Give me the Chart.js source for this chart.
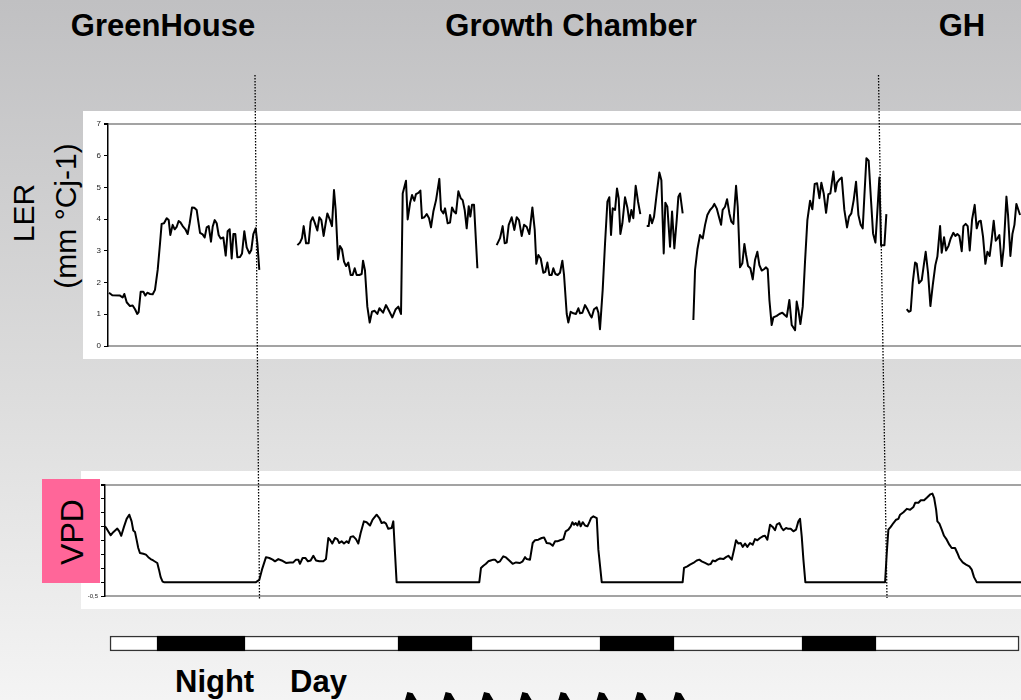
<!DOCTYPE html>
<html>
<head>
<meta charset="utf-8">
<script src="https://cdn.jsdelivr.net/npm/chart.js@4.4.1/dist/chart.umd.min.js"></script>
<style>
  html, body { margin: 0; padding: 0; }
  body {
    width: 1021px; height: 700px; overflow: hidden; position: relative;
    background: linear-gradient(to bottom, #c0c0c2 0%, #dcdcdc 55%, #f4f4f4 100%);
    font-family: "Liberation Sans", Arial, sans-serif;
  }
  .panel { position: absolute; background: #fff; }
  canvas { position: absolute; }
  .title { position: absolute; width: 400px; text-align: center; font-weight: bold; font-size: 31px; line-height: 1; color: #000; white-space: nowrap; }
  .vlabel { position: absolute; white-space: nowrap; line-height: 1; color: #000; transform: translate(-50%, -50%) rotate(-90deg); }
  .phase { position: absolute; font-weight: bold; font-size: 31px; line-height: 1; color: #000; }
  #vpdBox { position: absolute; left: 42px; top: 479px; width: 58px; height: 104px; background: #ff6699; }
  svg.overlay { position: absolute; left: 0; top: 0; pointer-events: none; }
</style>
</head>
<body>
  <div class="title" style="left:-37px; top:10px;">GreenHouse</div>
  <div class="title" style="left:371px; top:10px;">Growth Chamber</div>
  <div class="title" style="left:762px; top:10px;">GH</div>

  <div class="panel" style="left:83px; top:111px; width:938px; height:248px;"></div>
  <canvas id="ler" width="938" height="248" style="left:83px; top:111px;"></canvas>

  <div class="vlabel" style="left:24px; top:213px; font-size:30px;">LER</div>
  <div class="vlabel" style="left:66px; top:216px; font-size:30px;">(mm °Cj-1)</div>

  <div class="panel" style="left:81px; top:471px; width:940px; height:138px;"></div>
  <canvas id="vpd" width="940" height="138" style="left:81px; top:471px;"></canvas>

  <div id="vpdBox"></div>
  <div class="vlabel" style="left:72px; top:532px; font-size:32px;">VPD</div>

  <canvas id="cycle" width="913" height="21" style="left:108px; top:633px;"></canvas>

  <div class="phase" style="left:175px; top:666px;">Night</div>
  <div class="phase" style="left:290px; top:666px;">Day</div>

  <svg class="overlay" id="overlay" width="1021" height="700"></svg>

<script>
// Leaf elongation rate (mm °Cd-1) against time since start (hours); null breaks the trace
const lerHours = [
  0.12, 0.51, 1.43, 1.74, 1.94, 2.22, 2.61, 2.93, 3.21, 3.48, 3.64, 3.88, 4.20, 4.43, 4.67, 4.99, 5.31, 5.58, 5.90, 6.18,
  6.37, 6.65, 6.97, 7.21, 7.40, 7.68, 7.92, 8.16, 8.39, 8.63, 8.87, 9.19, 9.46, 9.70, 9.98, 10.25, 10.53, 10.73, 10.93, 11.24,
  11.48, 11.72, 11.96, 12.23, 12.43, 12.67, 12.91, 13.14, 13.38, 13.70, 13.98, 14.21, 14.45, 14.69, 14.89, 15.12, 15.36, 15.68, 15.92, 16.19,
  16.47, 16.79, 17.02, 17.26, 17.54, 17.74, 17.97,
  20.0,
  22.49, 22.80, 23.04, 23.24, 23.52, 23.83, 24.07, 24.31, 24.55, 24.86, 25.10, 25.34, 25.61, 25.85, 26.05, 26.37, 26.60, 26.84, 27.04, 27.32,
  27.55, 27.79, 28.03, 28.27, 28.54, 28.82, 29.06, 29.30, 29.53, 29.85, 30.13, 30.29, 30.52, 30.80, 31.08, 31.35, 31.67, 31.99, 32.23, 32.67,
  33.01, 33.37, 33.77, 34.17, 34.48, 34.80, 35.00, 35.39, 35.59, 35.87, 36.11, 36.38, 36.58, 36.86, 37.10, 37.29, 37.57, 37.85, 38.13, 38.36,
  38.64, 38.96, 39.15, 39.35, 39.55, 39.83, 40.03, 40.34, 40.62, 40.86, 41.09, 41.33, 41.61, 41.89, 42.12, 42.36, 42.60, 42.84, 43.03, 43.23,
  43.47, 43.87,
  45.0,
  46.16, 46.56, 46.87, 47.11, 47.35, 47.59, 47.94, 48.26, 48.54, 48.81, 49.13, 49.41, 49.72, 50.04, 50.40, 50.68, 50.87, 51.11, 51.39, 51.70,
  51.94, 52.18, 52.42, 52.69, 52.89, 53.13, 53.41, 53.68, 53.96, 54.16, 54.48, 54.67, 54.95, 55.27, 55.58, 55.86, 56.06, 56.34, 56.65, 56.97,
  57.25, 57.44, 57.72, 58.04, 58.24, 58.43, 58.75, 59.03, 59.31, 59.54, 59.74, 59.94, 60.22, 60.45, 60.65, 60.85, 61.09, 61.40, 61.68, 61.92,
  62.16, 62.39, 62.67, 62.95, 63.22,
  63.6,
  63.98, 64.21, 64.37, 64.61, 64.85, 65.17, 65.48, 65.72, 66.00, 66.19, 66.43, 66.75, 66.99, 67.26, 67.54, 67.74, 67.94, 68.25,
  69.0,
  69.52, 69.72, 70.00, 70.31, 70.63, 70.91, 71.18, 71.50, 71.78, 72.01, 72.29, 72.57, 72.81, 73.00, 73.28, 73.52, 73.80, 74.03, 74.27, 74.59,
  74.79, 75.06, 75.34, 75.58, 75.78, 76.01, 76.29, 76.57, 76.84, 77.12, 77.36, 77.64, 77.91, 78.15, 78.35, 78.55, 78.82, 79.02, 79.42, 79.73,
  80.09, 80.37, 80.61, 80.92, 81.20, 81.60, 81.79, 81.99, 82.23, 82.51, 82.78, 83.06, 83.38, 83.65, 83.93, 84.21, 84.49, 84.72, 85.00, 85.28,
  85.55, 85.79, 86.15, 86.38, 86.58, 86.86, 87.14, 87.45, 87.77, 88.01, 88.28, 88.56, 88.84, 89.12, 89.39, 89.63, 89.83, 90.07, 90.34, 90.58,
  90.86, 91.14, 91.37, 91.61, 91.81, 92.21, 92.44,
  93.5,
  94.86, 95.09, 95.33, 95.57, 95.85, 96.05, 96.32, 96.64, 96.92, 97.11, 97.39, 97.67, 97.95, 98.26, 98.50, 98.82, 99.01, 99.29, 99.53, 99.81,
  100.08, 100.40, 100.64, 100.87, 101.11, 101.39, 101.59, 101.86, 102.10, 102.34, 102.62, 102.93, 103.17, 103.41, 103.65, 103.92, 104.20, 104.44, 104.71, 104.95,
  105.19, 105.43, 105.63, 105.86, 106.14, 106.38, 106.70, 106.89, 107.17, 107.41, 107.65, 107.88, 108.12, 108.32
];
const lerValues = [
  1.68, 1.60, 1.59, 1.53, 1.64, 1.38, 1.26, 1.28, 1.16, 1.01, 1.07, 1.71, 1.71, 1.59, 1.68, 1.64, 1.63, 1.77, 2.40, 3.24,
  3.85, 3.87, 4.03, 3.97, 3.50, 3.82, 3.68, 3.76, 3.94, 3.89, 3.78, 3.68, 3.53, 3.87, 4.37, 4.36, 4.29, 3.92, 3.57, 3.52,
  3.42, 3.74, 3.78, 3.29, 3.76, 3.97, 3.87, 3.50, 3.39, 3.42, 2.85, 3.62, 3.68, 2.76, 3.53, 3.53, 2.80, 2.81, 2.92, 3.62,
  3.11, 2.92, 3.03, 3.53, 3.71, 3.24, 2.40,
  null,
  3.18, 3.26, 3.40, 3.78, 3.24, 3.24, 3.92, 4.06, 3.89, 3.64, 4.06, 3.97, 3.47, 3.87, 4.18, 3.97, 3.78, 4.92, 4.29, 2.73,
  3.15, 3.05, 2.66, 2.52, 2.63, 2.24, 2.24, 2.45, 2.24, 2.24, 2.27, 2.69, 2.38, 1.24, 0.74, 1.08, 1.11, 1.01, 1.19, 1.05,
  1.29, 1.11, 0.90, 1.16, 1.24, 1.01, 4.81, 5.21, 3.99, 4.50, 4.76, 4.58, 4.79, 4.83, 4.90, 4.03, 4.06, 4.16, 4.03, 3.74,
  4.24, 4.60, 4.92, 5.27, 4.29, 4.18, 4.34, 3.87, 3.89, 4.37, 4.24, 4.18, 4.88, 4.66, 4.60, 4.29, 3.71, 4.41, 4.08, 4.45,
  4.45, 2.45,
  null,
  3.18, 3.40, 3.78, 3.24, 3.26, 3.82, 4.06, 3.66, 4.06, 3.97, 3.47, 3.82, 3.76, 3.53, 4.37, 3.66, 2.59, 2.87, 2.76, 2.31,
  2.34, 2.63, 2.24, 2.24, 2.45, 2.27, 2.24, 2.31, 2.69, 2.24, 1.01, 0.74, 1.08, 1.03, 1.01, 1.19, 1.03, 1.05, 1.29, 1.14,
  0.98, 0.90, 1.16, 1.22, 1.05, 0.53, 1.77, 3.24, 4.55, 4.69, 3.50, 4.34, 4.29, 4.97, 4.66, 3.53, 3.87, 4.69, 4.37, 3.92,
  4.29, 4.03, 5.05, 4.55, 4.16,
  null,
  3.78, 3.78, 4.13, 3.87, 4.08, 4.81, 5.47, 5.23, 2.92, 4.52, 4.39, 3.13, 4.24, 3.08, 3.97, 4.71, 4.81, 4.18,
  null,
  0.82, 2.40, 3.05, 3.50, 3.39, 3.82, 4.13, 4.29, 4.37, 4.48, 4.34, 4.06, 3.82, 4.29, 4.39, 4.63, 4.18, 3.92, 3.85, 5.05,
  4.39, 2.48, 2.61, 3.22, 2.87, 2.52, 2.45, 2.10, 2.71, 2.97, 2.55, 2.38, 2.42, 2.48, 2.42, 1.45, 0.66, 0.90, 0.95, 1.01,
  1.05, 0.98, 0.92, 1.45, 0.66, 0.50, 1.40, 1.14, 0.69, 1.24, 2.66, 3.97, 4.58, 4.31, 5.11, 5.13, 4.66, 5.15, 4.81, 4.20,
  4.79, 4.81, 5.50, 4.87, 5.15, 5.25, 5.31, 4.29, 3.74, 4.08, 4.18, 4.60, 5.18, 4.13, 3.82, 3.71, 4.73, 5.92, 5.84, 4.76,
  3.55, 3.26, 4.24, 5.31, 3.18, 3.18, 4.16,
  null,
  1.16, 1.08, 1.11, 2.00, 2.63, 2.59, 1.98, 2.08, 2.61, 2.97, 2.31, 1.26, 1.92, 2.55, 2.82, 3.78, 2.94, 3.43, 3.01, 3.15,
  3.39, 3.57, 3.47, 3.53, 3.47, 2.99, 3.78, 3.85, 3.78, 3.01, 3.99, 4.45, 3.71, 3.92, 3.95, 3.45, 2.59, 2.97, 2.84, 3.36,
  3.95, 3.32, 3.39, 3.50, 2.52, 3.11, 4.71, 4.13, 2.84, 3.53, 3.82, 4.48, 4.29, 4.13
];

// Vapour pressure deficit against the same time base (hours)
const vpdHours = [
  -0.35, -0.08, 0.32, 0.63, 1.11, 1.35, 1.58, 1.90, 2.22, 2.53, 2.81, 3.01, 3.21, 3.40, 3.60, 3.80, 4.20, 4.51, 4.79, 5.07,
  5.38, 5.86, 6.06, 6.26, 6.49, 6.65, 17.58, 17.97, 18.29, 18.77, 19.16, 19.56, 19.84, 20.23, 20.63, 21.14, 21.62, 22.01, 22.33, 22.61,
  22.80, 23.12, 23.44, 23.75, 24.07, 24.39, 24.71, 25.10, 25.58, 25.89, 26.17, 26.37, 26.64, 26.96, 27.24, 27.47, 27.75, 28.03, 28.35, 28.58,
  28.82, 29.14, 29.45, 29.73, 30.01, 30.40, 30.72, 31.12, 31.43, 31.91, 32.23, 32.50, 32.78, 33.02, 33.29, 33.69, 33.89, 34.09, 34.28, 44.10,
  44.30, 44.58, 44.89, 45.17, 45.45, 45.77, 45.96, 46.28, 46.56, 46.95, 47.27, 47.66, 48.06, 48.46, 48.93, 49.25, 49.53, 49.73, 50.12, 50.44,
  50.72, 51.11, 51.51, 51.79, 52.10, 52.50, 52.82, 53.10, 53.37, 53.69, 54.09, 54.36, 54.68, 54.96, 55.16, 55.35, 55.55, 55.75, 55.95, 56.14,
  56.38, 56.66, 56.94, 57.17, 57.37, 57.65, 58.05, 58.24, 58.64, 68.25, 68.41, 68.81, 69.12, 69.52, 69.92, 70.23, 70.51, 70.91, 71.30, 71.58,
  71.82, 72.10, 72.38, 72.69, 73.08, 73.40, 73.68, 74.08, 74.35, 74.59, 74.87, 75.14, 75.38, 75.66, 75.93, 76.25, 76.57, 76.84, 77.12, 77.44,
  77.76, 78.03, 78.31, 78.63, 78.94, 79.22, 79.42, 79.73, 80.01, 80.21, 80.53, 80.80, 81.08, 81.40, 81.71, 81.99, 82.19, 82.39, 82.59, 82.82,
  92.29, 92.49, 92.68, 92.96, 93.28, 93.60, 93.87, 94.07, 94.47, 94.87, 95.26, 95.66, 95.86, 96.25, 96.53, 96.92, 97.24, 97.64, 97.91, 98.11,
  98.35, 98.50, 98.74, 99.02, 99.29, 99.61, 99.92, 100.20, 100.60, 100.87, 101.11, 101.51, 101.90, 102.30, 102.58, 102.85, 103.17, 108.44
];
const vpdValues = [
  2.01, 1.89, 1.69, 1.80, 1.93, 1.83, 1.67, 1.99, 2.28, 2.43, 2.19, 1.86, 1.81, 1.53, 1.23, 1.05, 1.02, 0.99, 0.90, 0.83,
  0.78, 0.69, 0.45, 0.18, 0.02, 0, 0, 0.08, 0.45, 0.90, 0.87, 0.81, 0.75, 0.83, 0.78, 0.69, 0.71, 0.71, 0.81, 0.81,
  0.66, 0.87, 0.87, 0.75, 0.78, 0.95, 0.78, 0.75, 0.75, 0.83, 1.59, 1.53, 1.39, 1.59, 1.55, 1.41, 1.47, 1.39, 1.47, 1.41,
  1.63, 1.65, 1.55, 1.39, 1.77, 2.19, 2.16, 2.04, 2.25, 2.43, 2.31, 2.13, 2.16, 2.11, 1.92, 1.95, 2.19, 1.05, 0, 0,
  0.51, 0.59, 0.66, 0.75, 0.78, 0.81, 0.81, 0.71, 0.75, 0.93, 0.89, 0.78, 0.66, 0.71, 0.69, 0.75, 0.90, 0.83, 0.81, 1.41,
  1.51, 1.53, 1.59, 1.61, 1.41, 1.39, 1.31, 1.47, 1.47, 1.51, 1.55, 1.83, 1.89, 2.01, 2.16, 2.07, 2.13, 2.04, 2.19, 2.01,
  2.16, 2.04, 2.01, 2.16, 2.31, 2.37, 2.31, 1.17, 0, 0, 0.51, 0.57, 0.63, 0.69, 0.78, 0.81, 0.75, 0.69, 0.63, 0.65,
  0.78, 0.75, 0.81, 0.85, 0.83, 0.90, 0.95, 0.81, 1.17, 1.51, 1.39, 1.41, 1.27, 1.39, 1.27, 1.41, 1.35, 1.55, 1.51, 1.59,
  1.65, 1.67, 1.53, 2.07, 1.99, 1.87, 2.07, 2.13, 1.95, 1.87, 1.95, 1.92, 1.92, 1.83, 1.89, 2.19, 2.28, 1.65, 0.81, 0,
  0, 1.05, 1.89, 1.99, 2.13, 2.25, 2.28, 2.43, 2.52, 2.64, 2.61, 2.71, 2.86, 2.86, 2.95, 2.95, 3.04, 3.16, 3.19, 3.04,
  2.61, 2.19, 2.11, 1.89, 1.67, 1.53, 1.35, 1.23, 1.23, 1.05, 0.87, 0.71, 0.63, 0.57, 0.45, 0.18, 0, 0
];

// Photoperiod: lights-off intervals (hours) inside the recorded period
const recordSpan = [0.24, 108.2];
const nightStart = [5.82, 34.44, 58.43, 82.42];
const nightEnd = [16.27, 43.23, 67.22, 91.21];

const lerTicks = { min: 0, max: 7, step: 1 };
const vpdTicks = { min: -0.5, max: 3.5, step: 0.5 };
const hoursShown = 108.43;

Chart.defaults.font.family = "'Liberation Sans', Arial, sans-serif";
Chart.defaults.devicePixelRatio = 1;

const toPoints = (xs, ys) => xs.map((x, i) => ({ x: x, y: ys[i] }));
const GRID_GREY = '#a3a3a3';

function traceChart(id, xs, ys, yr, xMin, yAxisWidth, pad, tickFont, tickLabel) {
  return new Chart(document.getElementById(id), {
    type: 'line',
    data: {
      datasets: [{
        data: toPoints(xs, ys),
        borderColor: '#000',
        borderWidth: 2,
        pointRadius: 0,
        tension: 0,
        spanGaps: false,
        borderJoinStyle: 'round',
        fill: false
      }]
    },
    options: {
      responsive: false,
      animation: false,
      layout: { padding: pad },
      plugins: { legend: { display: false }, tooltip: { enabled: false } },
      scales: {
        x: {
          type: 'linear', min: xMin, max: hoursShown,
          ticks: { display: false },
          grid: { display: false, drawTicks: false },
          border: { display: true, color: GRID_GREY, width: 2 },
          afterFit(s) { s.height = 0; }
        },
        y: {
          min: yr.min, max: yr.max,
          ticks: { stepSize: yr.step, color: '#222', padding: 3, font: { size: tickFont }, callback: tickLabel },
          grid: {
            color: c => Math.abs(c.tick.value - yr.max) < 1e-6 ? GRID_GREY : 'rgba(0,0,0,0)',
            lineWidth: c => Math.abs(c.tick.value - yr.max) < 1e-6 ? 2 : 1,
            tickColor: '#000', tickLength: 4, drawTicks: true
          },
          border: { color: '#000', width: 1.5 },
          afterFit(s) { s.width = yAxisWidth; }
        }
      }
    }
  });
}

traceChart('ler', lerHours, lerValues, lerTicks, 0, 25,
  { top: 13, bottom: 13, left: 0, right: 0 }, 8, v => String(v));

traceChart('vpd', vpdHours, vpdValues, vpdTicks, -0.35, 24,
  { top: 14, bottom: 13, left: 0, right: 0 }, 6,
  v => Math.abs(v - vpdTicks.min) < 1e-6 ? String(v).replace('.', ',') : '');

// Light / dark bar
new Chart(document.getElementById('cycle'), {
  type: 'bar',
  data: {
    labels: ['cycle'],
    datasets: [
      ...nightStart.map((s, i) => ({
        data: [[s, nightEnd[i]]], backgroundColor: '#000', borderColor: '#000',
        borderWidth: 1, borderSkipped: false, grouped: false, barThickness: 15, order: 1
      })),
      { data: [recordSpan], backgroundColor: '#ffffff', borderColor: '#333',
        borderWidth: 1.5, borderSkipped: false, grouped: false, barThickness: 15, order: 2 }
    ]
  },
  options: {
    indexAxis: 'y', responsive: false, animation: false,
    layout: { padding: 0 },
    plugins: { legend: { display: false }, tooltip: { enabled: false } },
    scales: {
      x: { type: 'linear', min: 0, max: hoursShown, display: false },
      y: { display: false }
    }
  }
});

// Dotted separators between growing conditions, and the sampling arrows
const svgNS = 'http://www.w3.org/2000/svg';
const overlay = document.getElementById('overlay');
[[255, 75, 259.5, 600], [878.5, 75, 887, 598]].forEach(([x1, y1, x2, y2]) => {
  const l = document.createElementNS(svgNS, 'line');
  l.setAttribute('x1', x1); l.setAttribute('y1', y1);
  l.setAttribute('x2', x2); l.setAttribute('y2', y2);
  l.setAttribute('stroke', '#000'); l.setAttribute('stroke-width', '1.3');
  l.setAttribute('stroke-dasharray', '1.5 1.5');
  overlay.appendChild(l);
});
[410, 448.3, 486.7, 525, 563.3, 601.7, 640, 678.3].forEach(x => {
  const p = document.createElementNS(svgNS, 'polygon');
  p.setAttribute('points', [[x - 5, 700], [x - 2.7, 692], [x + 2.7, 693.3], [x + 4.3, 696], [x + 6.7, 700]].map(q => q.join(',')).join(' '));
  p.setAttribute('fill', '#000');
  overlay.appendChild(p);
});
</script>
</body>
</html>
